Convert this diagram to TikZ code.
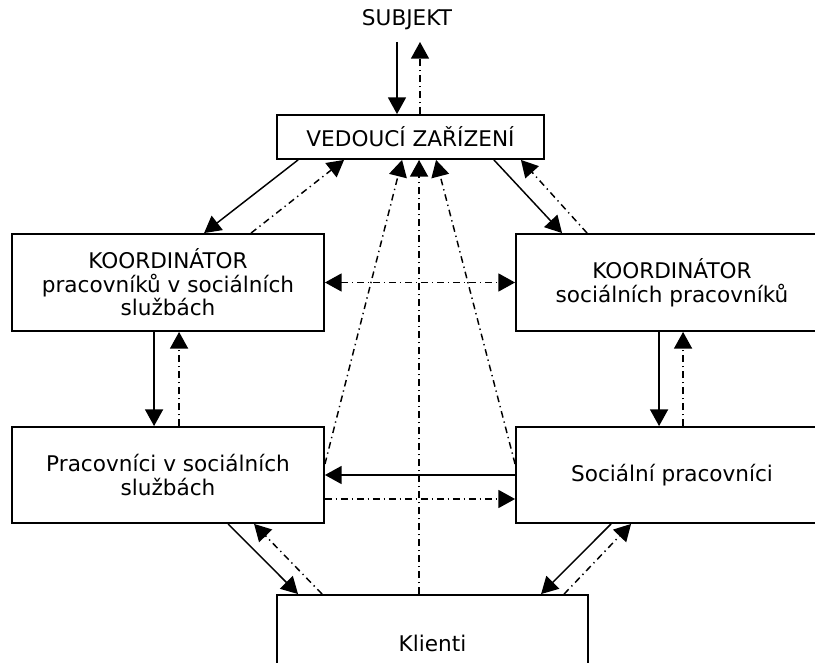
\documentclass[tikz,border=0pt]{standalone}
\usepackage{fontspec}
\setmainfont{DejaVu Sans}
\usetikzlibrary{calc,arrows.meta}

\begin{document}
\begin{tikzpicture}[x=0.75pt,y=0.75pt,yscale=-1,xscale=1,
  box/.style={draw,line width=1.4pt,align=center,inner sep=0pt,font=\fontsize{16.2}{17.6}\selectfont},
  arr/.style={line width=1.1pt,-{Triangle[length=12.5pt,width=13.5pt]}},
  darr/.style={arr,dash pattern=on 5pt off 3pt on 1pt off 3pt}]
\useasboundingbox (0,0) rectangle (815,663);
\clip (0,0) rectangle (815,663);

% Boxes
\node (subj) at (407,20) [font=\fontsize{16.2}{17.6}\selectfont] {SUBJEKT};
\node (ved) at (410.5,137) [box,minimum width=200.25pt,minimum height=33pt] {VEDOUCÍ ZAŘÍZENÍ};
\node (koordL) at (168,282.5) [box,minimum width=234pt,minimum height=72.75pt] {KOORDINÁTOR\\pracovníků v sociálních\\službách};
\node (koordR) at (672,282.5) [box,minimum width=234pt,minimum height=72.75pt] {KOORDINÁTOR\\sociálních pracovníků};
\node (pracL) at (168,475) [box,minimum width=234pt,minimum height=72pt] {Pracovníci v sociálních\\službách};
\node (socR) at (672,475) [box,minimum width=234pt,minimum height=72pt] {Sociální pracovníci};
\node (kl) at (432.5,643) [box,minimum width=233.25pt,minimum height=72pt] {Klienti};

\coordinate (subjIn) at (397,42);
\coordinate (subjOut) at (420,42);

% Subjekt - vedouci
\draw[arr] (subjIn) -- (subjIn |- ved.north);
\draw[darr] (subjOut |- ved.north) -- (subjOut);

% Vedouci - koordinatori
\draw[arr] ($(ved.south west)+(22,0)$) -- ($(koordL.north west)+(193,0)$);
\draw[darr] ($(koordL.north west)+(240,0)$) -- ($(ved.south west)+(68,0)$);
\draw[arr] ($(ved.south east)+(-51,0)$) -- ($(koordR.north west)+(47,0)$);
\draw[darr] ($(koordR.north west)+(72,0)$) -- ($(ved.south east)+(-24,0)$);
\draw[darr,{Triangle[length=12.5pt,width=13.5pt]}-{Triangle[length=12.5pt,width=13.5pt]}] (koordL.east) -- (koordR.west);

% Koordinatori - pracovnici
\draw[arr] ($(koordL.south west)+(143,0)$) -- ($(pracL.north west)+(143,0)$);
\draw[darr] ($(pracL.north west)+(168,0)$) -- ($(koordL.south west)+(168,0)$);
\draw[arr] ($(koordR.south west)+(144,0)$) -- ($(socR.north west)+(144,0)$);
\draw[darr] ($(socR.north west)+(168,0)$) -- ($(koordR.south west)+(168,0)$);

% Pracovnici mezi sebou
\draw[arr] (socR.west) -- (pracL.east);
\draw[darr] ($(pracL.east)+(0,24)$) -- ($(socR.west)+(0,24)$);

% Zpetna vazba k vedoucimu
\draw[darr] ($(pracL.north east)+(0,38)$) -- ($(ved.south west)+(126,0)$);
\draw[darr] ($(kl.north west)+(143,0)$) -- ($(ved.south west)+(143,0)$);
\draw[darr] ($(socR.north west)+(0,38)$) -- ($(ved.south west)+(160,0)$);

% Pracovnici - klienti
\draw[arr] ($(pracL.south west)+(217,0)$) -- ($(kl.north west)+(22,0)$);
\draw[darr] ($(kl.north west)+(46,0)$) -- ($(pracL.south west)+(243,0)$);
\draw[arr] ($(socR.south west)+(96,0)$) -- ($(kl.north west)+(265,0)$);
\draw[darr] ($(kl.north west)+(288,0)$) -- ($(socR.south west)+(116,0)$);

\end{tikzpicture}
\end{document}
